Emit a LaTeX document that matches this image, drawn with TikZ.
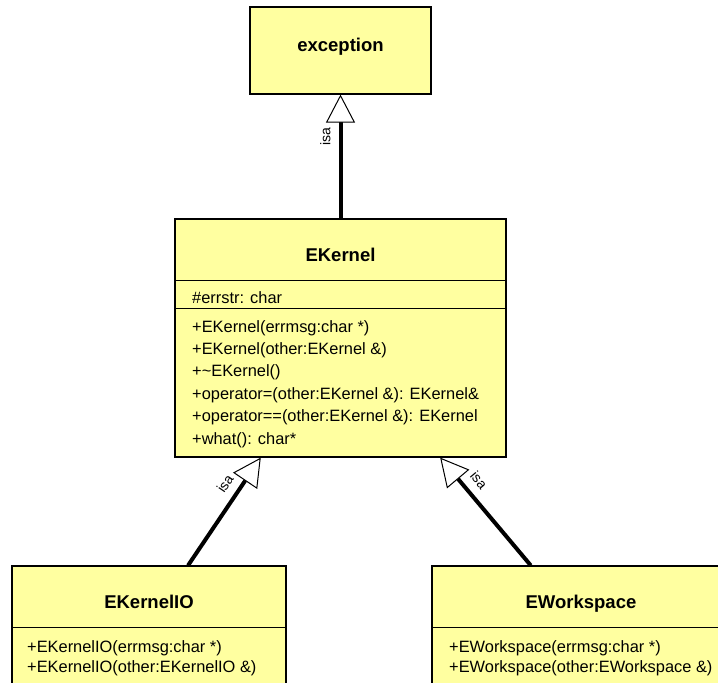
\documentclass[tikz,border=0pt]{standalone}
\usepackage{fontspec}
\setmainfont{Liberation Sans}
\usetikzlibrary{arrows.meta,calc}
\definecolor{classfill}{RGB}{255,255,160}
\begin{document}
\begin{tikzpicture}[x=1pt,y=-1pt,
  classbox/.style={draw=black, line width=1.2pt, fill=classfill, inner sep=0pt},
  title/.style={font=\fontsize{18.5}{22}\selectfont\bfseries, anchor=base, inner sep=0pt},
  member/.style={font=\fontsize{16.4}{20}\selectfont, anchor=base west, inner sep=0pt},
  compart/.style={line width=1pt},
  isa/.style={line width=4pt, -{Triangle[fill=white, length=28pt, width=29pt, line width=1pt]}},
  isalabel/.style={font=\fontsize{14}{16}\selectfont, sloped, above, inner sep=0pt, outer sep=10pt},
]
\useasboundingbox (0,0) rectangle (718,683);

% class boxes
\node[classbox, minimum width=181pt, minimum height=87pt]  (exception) at (340.5,50.5) {};
\node[classbox, minimum width=331pt, minimum height=238pt] (ekernel)   at (340.5,338) {};
\node[classbox, minimum width=274pt, minimum height=134pt] (ekio)      at (149,633) {};
\node[classbox, minimum width=298pt, minimum height=134pt] (ews)       at (581,633) {};

% compartment separators
\draw[compart] ($(ekernel.north west)+(0,62)$) -- ($(ekernel.north east)+(0,62)$);
\draw[compart] ($(ekernel.north west)+(0,90)$) -- ($(ekernel.north east)+(0,90)$);
\draw[compart] ($(ekio.north west)+(0,62)$) -- ($(ekio.north east)+(0,62)$);
\draw[compart] ($(ews.north west)+(0,62)$) -- ($(ews.north east)+(0,62)$);

% class names
\node[title] (exctitle) at (340.5,51) {exception};
\node[title] (ektitle)  at (340.5,261) {EKernel};
\node[title] (iotitle)  at (149,608) {EKernelIO};
\node[title] (wstitle)  at (581,608) {EWorkspace};

% EKernel members
\node[member] (errstr) at (192,303) {\#errstr: char};
\node[member] (m1) at (192,332)   {+EKernel(errmsg:char *)};
\node[member] (m2) at (192,354.4) {+EKernel(other:EKernel \&)};
\node[member] (m3) at (192,376.8) {+\textasciitilde EKernel()};
\node[member] (m4) at (192,399.2) {+operator=(other:EKernel \&): EKernel\&};
\node[member] (m5) at (192,421.6) {+operator==(other:EKernel \&): EKernel};
\node[member] (m6) at (192,444)   {+what(): char*};

% EKernelIO members
\node[member] (io1) at (27,652) {+EKernelIO(errmsg:char *)};
\node[member] (io2) at (27,672) {+EKernelIO(other:EKernelIO \&)};

% EWorkspace members
\node[member] (ws1) at (449,652) {+EWorkspace(errmsg:char *)};
\node[member] (ws2) at (449,672) {+EWorkspace(other:EWorkspace \&)};

% generalisation connectors
\coordinate (ioTop) at ($(ekio.north west)!0.642!(ekio.north east)$);
\coordinate (ekL)   at ($(ekernel.south west)!0.26!(ekernel.south east)$);
\coordinate (wsTop) at ($(ews.north west)!0.332!(ews.north east)$);
\coordinate (ekR)   at ($(ekernel.south west)!0.80!(ekernel.south east)$);

\draw[isa] (ekernel.north) -- node[isalabel, pos=0.66] (isa1) {isa} (exception.south);
\draw[isa] (ioTop) -- node[isalabel, pos=0.68] (isa2) {isa} (ekL);
\draw[isa] (wsTop) -- node[isalabel, pos=0.70] (isa3) {isa} (ekR);
\end{tikzpicture}
\end{document}
